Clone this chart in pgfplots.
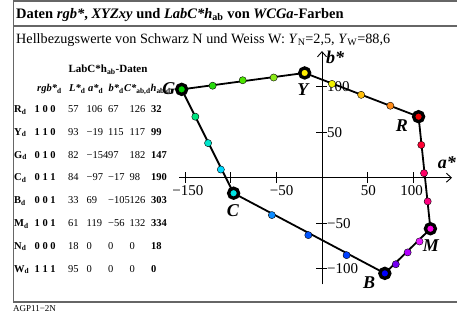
\documentclass[border=0pt]{standalone}
\usepackage{fontspec}
\setmainfont{Liberation Serif}
\usepackage{pgfplots}
\pgfplotsset{compat=1.18}
\usetikzlibrary{arrows.meta}
\definecolor{cR}{rgb}{0.95,0,0}
\definecolor{cY}{rgb}{1,0.93,0}
\definecolor{cG}{rgb}{0,0.82,0}
\definecolor{cC}{rgb}{0,0.9,0.9}
\definecolor{cB}{rgb}{0,0,1}
\definecolor{cM}{rgb}{1,0,0.9}
\definecolor{gy1}{rgb}{0.15,0.85,0.05}
\definecolor{gy2}{rgb}{0.3,0.9,0}
\definecolor{gy3}{rgb}{0.55,0.92,0.1}
\definecolor{yr1}{rgb}{0.95,0.95,0}
\definecolor{yr2}{rgb}{1,0.75,0.05}
\definecolor{yr3}{rgb}{1,0.55,0.1}
\definecolor{rm1}{rgb}{1,0,0.2}
\definecolor{rm2}{rgb}{1,0,0.4}
\definecolor{rm3}{rgb}{1,0,0.5}
\definecolor{mb1}{rgb}{0.9,0.1,1}
\definecolor{mb2}{rgb}{0.7,0,1}
\definecolor{mb3}{rgb}{0.45,0,0.95}
\definecolor{bc1}{rgb}{0,0.25,1}
\definecolor{bc2}{rgb}{0,0.33,1}
\definecolor{bc3}{rgb}{0.05,0.55,1}
\definecolor{cg1}{rgb}{0,0.85,1}
\definecolor{cg2}{rgb}{0,0.9,0.8}
\definecolor{cg3}{rgb}{0,0.9,0.5}
\newcommand{\TF}{\fontsize{10.5}{12}\selectfont}
\newcommand{\row}[9]{%
  \node[anchor=base west,inner sep=0,font=\TF] at (14,313-#1) {\textbf{#2}\textsubscript{\textbf{d}}};
  \node[anchor=base west,inner sep=0,font=\TF\bfseries] at (34.5,313-#1) {#3};
  \node[anchor=base west,inner sep=0,font=\TF] at (68,313-#1) {#4};
  \node[anchor=base west,inner sep=0,font=\TF] at (86.5,313-#1) {#5};
  \node[anchor=base west,inner sep=0,font=\TF] at (108,313-#1) {#6};
  \node[anchor=base west,inner sep=0,font=\TF] at (129.5,313-#1) {#7};
  \node[anchor=base west,inner sep=0,font=\TF\bfseries] at (151,313-#1) {#8};
}
\begin{document}
\begin{tikzpicture}[x=1pt,y=1pt]
\useasboundingbox (0,0) rectangle (457,313);
% frame
\draw[gray!80!black, line width=1.4pt] (457,313-1) -- (13.3,313-1) -- (13.3,313-302);
\draw[gray!80!black, line width=1.4pt] (13.3,313-26) -- (457,313-26);
\draw[gray!80!black, line width=2.6pt] (13.3,313-302) -- (457,313-302);
% titles
\node[anchor=base west,inner sep=0,font=\fontsize{14.5}{16}\selectfont\bfseries] at (16,313-18.5)
  {Daten \textit{rgb*}, \textit{XYZxy} und \textit{LabC*h}\textsubscript{ab} von \textit{WCGa}-Farben};
\node[anchor=base west,inner sep=0,font=\fontsize{14.2}{16}\selectfont] at (16,313-43.5)
  {Hellbezugswerte von Schwarz N und Weiss W: \textit{Y}\textsubscript{N}=2,5, \textit{Y}\textsubscript{W}=88,6};
\node[anchor=base west,inner sep=0,font=\fontsize{9}{10}\selectfont] at (13,313-311.5) {AGP11−2N};
% table
\node[anchor=center,inner sep=0,font=\fontsize{11}{12}\selectfont\bfseries] at (108,313-70) {LabC*h\textsubscript{ab}-Daten};
\begin{scope}[every node/.style={anchor=base west,inner sep=0,font=\TF\bfseries\itshape}]
\node at (37,313-92) {rgb*\textsubscript{\upshape d}};
\node at (69,313-92) {L*\textsubscript{\upshape d}};
\node at (88,313-92) {a*\textsubscript{\upshape d}};
\node at (108.5,313-92) {b*\textsubscript{\upshape d}};
\node at (124,313-92) {C*\textsubscript{\upshape ab,d}};
\node at (150.5,313-92) {h\textsubscript{\upshape ab,d}};
\end{scope}
\row{112.5}{R}{1 0 0}{57}{106}{67}{126}{32}{}
\row{135.3}{Y}{1 1 0}{93}{−19}{115}{117}{99}{}
\row{158.1}{G}{0 1 0}{82}{−154}{97}{182}{147}{}
\row{180.9}{C}{0 1 1}{84}{−97}{−17}{98}{190}{}
\row{203.7}{B}{0 0 1}{33}{69}{−105}{126}{303}{}
\row{226.5}{M}{1 0 1}{61}{119}{−56}{132}{334}{}
\row{249.3}{N}{0 0 0}{18}{0}{0}{0}{18}{}
\row{272.1}{W}{1 1 1}{95}{0}{0}{0}{0}{}
\begin{axis}[
  at={(179.3pt,28.7pt)}, anchor=south west, scale only axis,
  width=272.7pt, height=233.2pt,
  xmin=-156.6, xmax=142.7, ymin=-117, ymax=139, enlargelimits=false,
  axis lines=middle,
  axis line style={line width=0.9pt, black},
  x axis line style={-{Straight Barb[length=5pt,width=9pt,line width=0.9pt]}},
  y axis line style={-{Straight Barb[length=5pt,width=9pt,line width=0.9pt]}},
  xtick={-150,-100,-50,50,100}, ytick={-100,-50,50,100},
  xticklabels={,,}, yticklabels={,,},
  tick align=center, major tick length=11pt,
  tick style={black, line width=0.8pt},
  clip=false,
  dot/.style={only marks, mark=*, mark size=3.6pt, mark options={draw=none, fill=#1}},
  big/.style={only marks, mark=*, mark size=5pt, mark options={draw=black, line width=3.3pt, fill=#1}},
]
\addplot[black, line width=1.8pt, line join=round, mark=none] coordinates {(-154,97) (-19,115) (106,67) (119,-56) (69,-105) (-97,-17) (-154,97)};
\addplot[dot=gy1] coordinates {(-120,101)};
\addplot[dot=gy2] coordinates {(-87,107)};
\addplot[dot=gy3] coordinates {(-53,110)};
\addplot[dot=yr1] coordinates {(11,103)};
\addplot[dot=yr2] coordinates {(43,91)};
\addplot[dot=yr3] coordinates {(75,79)};
\addplot[dot=rm1] coordinates {(109,36)};
\addplot[dot=rm2] coordinates {(112,5)};
\addplot[dot=rm3] coordinates {(116,-26)};
\addplot[dot=mb1] coordinates {(107,-70)};
\addplot[dot=mb2] coordinates {(94,-82)};
\addplot[dot=mb3] coordinates {(81,-95)};
\addplot[dot=bc1] coordinates {(27,-85)};
\addplot[dot=bc2] coordinates {(-15,-63)};
\addplot[dot=bc3] coordinates {(-55,-41)};
\addplot[dot=cg1] coordinates {(-111,9)};
\addplot[dot=cg2] coordinates {(-125,38)};
\addplot[dot=cg3] coordinates {(-139,67)};
\addplot[big=cR] coordinates {(106,67)};
\addplot[big=cY] coordinates {(-19,115)};
\addplot[big=cG] coordinates {(-154,97)};
\addplot[big=cC] coordinates {(-97,-17)};
\addplot[big=cB] coordinates {(69,-105)};
\addplot[big=cM] coordinates {(119,-56)};
% point labels
\begin{scope}[every node/.style={font=\fontsize{18}{18}\selectfont\bfseries\itshape, inner sep=0}]
\node at (axis cs:-168,97.4) {G};
\node at (axis cs:-20.9,96.2) {Y};
\node at (axis cs:87.8,56.8) {R};
\node at (axis cs:-97.7,-36.6) {C};
\node at (axis cs:51.6,-115.6) {B};
\node at (axis cs:119.6,-75) {M};
\node at (axis cs:137,16.1) {a*};
\node at (axis cs:14.3,132.5) {b*};
\end{scope}
% tick labels
\begin{scope}[every node/.style={font=\fontsize{15}{15}\selectfont, inner sep=0}]
\node at (axis cs:-147.1,-14.3) {−150};
\node at (axis cs:-44.2,-14.3) {−50};
\node at (axis cs:50.8,-14.3) {50};
\node at (axis cs:98.5,-14.3) {100};
\node[anchor=west] at (axis cs:5.5,100) {100};
\node[anchor=west] at (axis cs:5.5,50) {50};
\node[anchor=west] at (axis cs:5.5,-50) {−50};
\node[anchor=west] at (axis cs:5.5,-100) {−100};
\end{scope}
\end{axis}
\end{tikzpicture}
\end{document}
